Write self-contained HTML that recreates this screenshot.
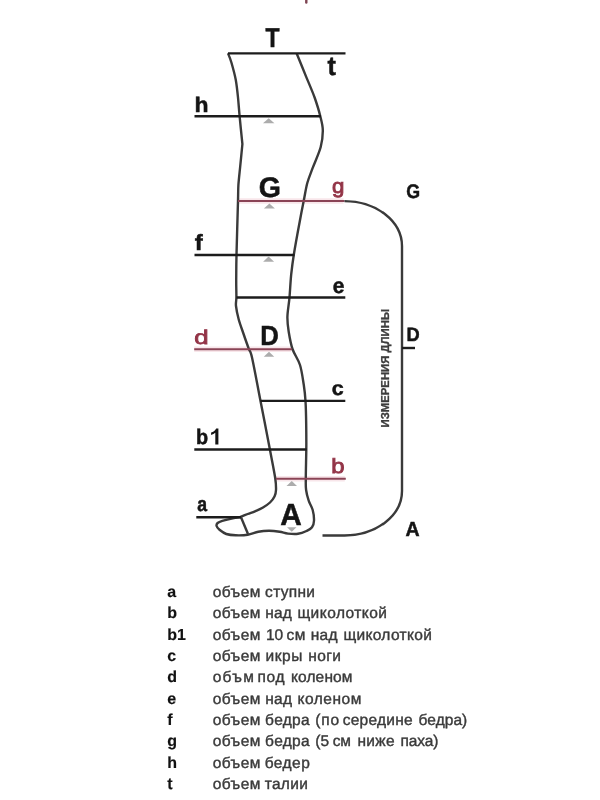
<!DOCTYPE html>
<html><head><meta charset="utf-8"><style>
html,body{margin:0;padding:0;background:#fff;width:600px;height:800px;overflow:hidden}
svg{display:block;will-change:transform;text-rendering:geometricPrecision;font-family:"Liberation Sans",sans-serif}
</style></head><body>
<svg width="600" height="800" viewBox="0 0 600 800">
<line x1="276" y1="478.7" x2="344.8" y2="478.7" stroke="#f8e6ea" stroke-width="5.5"/>
<line x1="194.2" y1="349.2" x2="291" y2="349.2" stroke="#f8e6ea" stroke-width="5.5"/>
<line x1="238" y1="201.1" x2="343.5" y2="201.1" stroke="#f8e6ea" stroke-width="5.5"/>
<path d="M228.0,53.3 C228.6,54.8 230.1,58.0 231.4,62.5 C232.7,67.0 234.7,74.2 235.8,80.0 C236.8,85.8 237.4,91.5 238.0,97.5 C238.6,103.5 238.9,108.2 239.6,116.0 C240.3,123.8 241.9,139.3 242.4,144.0" fill="none" stroke="#3a3a3a" stroke-width="2.4" stroke-linejoin="round"/>
<path d="M242.4,144.0 C242.0,147.9 240.8,160.7 240.1,167.5 C239.4,174.3 238.8,179.4 238.4,185.0 C238.1,190.6 238.3,189.3 238.0,201.0 C237.7,212.7 236.8,241.8 236.5,255.0 C236.2,268.2 236.3,273.0 236.2,280.0 C236.2,287.0 236.4,292.7 236.4,297.0 C236.4,301.3 235.6,302.3 236.0,306.0 C236.4,309.7 237.4,314.4 238.6,319.0 C239.8,323.6 241.7,328.5 243.4,333.5 C245.1,338.5 247.3,344.8 248.8,348.8 C250.2,352.8 250.0,348.8 252.0,357.5 C254.0,366.2 257.5,385.6 260.5,401.0 C263.5,416.4 267.6,437.2 270.0,450.0 C272.4,462.8 274.2,471.3 275.2,478.0 C276.2,484.7 276.1,486.9 276.0,490.0 C275.9,493.1 275.5,494.4 274.5,496.5 C273.5,498.6 271.9,500.7 270.0,502.5 C268.1,504.3 265.5,506.0 263.0,507.5 C260.5,509.0 257.6,510.2 255.0,511.3 C252.4,512.4 250.2,513.0 247.7,514.0 C245.2,515.0 241.3,516.6 240.0,517.1" fill="none" stroke="#3a3a3a" stroke-width="2.4" stroke-linejoin="round"/>
<path d="M240.0,517.1 C238.6,517.4 234.6,518.0 231.7,518.6 C228.8,519.2 224.7,520.1 222.3,520.8 C220.0,521.5 218.6,522.1 217.6,523.0 C216.6,523.9 216.3,524.9 216.6,526.0 C216.9,527.1 217.9,528.5 219.5,529.8 C221.1,531.1 223.6,533.1 226.3,534.0 C229.0,534.9 232.1,535.2 235.7,535.3 C239.3,535.4 243.9,535.4 247.7,534.8 C251.5,534.2 254.8,532.5 258.3,531.8 C261.9,531.1 265.4,530.8 269.0,530.8 C272.6,530.8 276.5,531.3 279.7,531.8 C282.9,532.3 284.9,533.3 288.0,533.6 C291.1,533.9 294.9,534.2 298.0,533.8 C301.1,533.4 304.2,532.1 306.5,531.0 C308.8,529.9 310.8,529.0 312.0,527.3 C313.2,525.6 313.9,523.6 314.0,520.7 C314.1,517.8 313.6,513.3 312.7,510.0 C311.8,506.7 309.8,504.0 308.7,500.7 C307.6,497.4 306.6,493.7 306.1,490.0 C305.6,486.3 305.8,485.5 305.8,478.7 C305.8,471.9 306.2,457.9 306.3,449.0 C306.4,440.1 306.3,433.0 306.2,425.0 C306.1,417.0 305.9,407.7 305.5,401.0 C305.1,394.3 304.7,391.0 303.8,385.0 C302.8,379.0 301.9,371.0 300.0,365.0 C298.1,359.0 294.4,354.6 292.5,349.0 C290.6,343.4 289.6,337.1 288.7,331.7 C287.8,326.3 287.3,322.6 287.4,316.9 C287.5,311.2 288.9,304.4 289.5,297.3 C290.1,290.2 290.5,281.5 291.2,274.4 C292.0,267.3 292.4,263.7 293.8,254.8 C295.2,245.9 298.1,230.2 299.8,221.2 C301.4,212.2 302.4,207.4 303.7,201.0 C305.0,194.6 305.8,188.5 307.3,183.0 C308.8,177.5 310.4,174.2 312.6,168.2 C314.8,162.2 319.0,153.4 320.7,147.0 C322.4,140.6 322.9,135.3 322.8,130.0 C322.7,124.7 321.3,120.4 320.0,115.1 C318.7,109.8 317.0,104.4 314.8,98.0 C312.5,91.6 309.3,84.3 306.2,76.9 C303.2,69.5 298.3,57.4 296.7,53.5" fill="none" stroke="#3a3a3a" stroke-width="2.4" stroke-linejoin="round"/>
<line x1="241" y1="517.3" x2="248" y2="534" stroke="#3a3a3a" stroke-width="2.4"/>
<line x1="228" y1="53.4" x2="345.5" y2="53.4" stroke="#1c1c1c" stroke-width="2.4"/>
<line x1="194.5" y1="116.3" x2="321" y2="116.3" stroke="#1c1c1c" stroke-width="2.4"/>
<line x1="238" y1="201.1" x2="344.5" y2="201.1" stroke="#8a4456" stroke-width="2.0"/>
<line x1="194.5" y1="255" x2="294.5" y2="255" stroke="#1c1c1c" stroke-width="2.4"/>
<line x1="236.5" y1="297.5" x2="345.3" y2="297.5" stroke="#1c1c1c" stroke-width="2.4"/>
<line x1="194.2" y1="349.2" x2="292" y2="349.2" stroke="#8a4456" stroke-width="2.0"/>
<line x1="260.3" y1="400.9" x2="345.3" y2="400.9" stroke="#1c1c1c" stroke-width="2.4"/>
<line x1="194.3" y1="449.5" x2="306.7" y2="449.5" stroke="#1c1c1c" stroke-width="2.4"/>
<line x1="276" y1="478.7" x2="345.8" y2="478.7" stroke="#8a4456" stroke-width="2.0"/>
<line x1="196.3" y1="517.3" x2="241" y2="517.3" stroke="#1c1c1c" stroke-width="2.4"/>
<path d="M344.5,201.1 A57.5,45 0 0 1 402,246 L402,491 A57.5,44.5 0 0 1 344.5,535.5 L322.5,535.5" fill="none" stroke="#3a3a3a" stroke-width="2.4"/>
<line x1="402" y1="348" x2="415" y2="348" stroke="#1c1c1c" stroke-width="2.4"/>
<polygon points="262.95,123.2 274.45,123.2 268.7,118.2" fill="#acacac"/>
<polygon points="263.9,208.6 274.9,208.6 269.4,203.6" fill="#acacac"/>
<polygon points="263.1,261.8 274.1,261.8 268.6,256.6" fill="#acacac"/>
<polygon points="263.75,356.8 274.25,356.8 269,351.8" fill="#acacac"/>
<polygon points="286.5,486 297.0,486 291.75,481" fill="#acacac"/>
<polygon points="287.0,527.3 296.5,527.3 291.75,531.6999999999999" fill="#acacac"/>
<text transform="translate(265.50,47.00) scale(0.2292,0.2725)" font-size="100" fill="#141414" stroke="#141414" stroke-width="1.99" font-weight="bold">T</text>
<text transform="translate(327.45,75.31) scale(0.2524,0.2632)" font-size="100" fill="#141414" stroke="#141414" stroke-width="1.94" font-weight="bold">t</text>
<text transform="translate(194.44,111.85) scale(0.2296,0.2117)" font-size="100" fill="#141414" stroke="#141414" stroke-width="2.27" font-weight="bold">h</text>
<text transform="translate(258.83,196.97) scale(0.2852,0.2825)" font-size="100" fill="#141414" stroke="#141414" stroke-width="1.76" font-weight="bold">G</text>
<text transform="translate(332.02,192.66) scale(0.2222,0.2040)" font-size="100" fill="#933447" stroke="#933447" stroke-width="4.22" font-weight="normal">g</text>
<text transform="translate(406.22,197.65) scale(0.1778,0.1956)" font-size="100" fill="#141414" stroke="#141414" stroke-width="2.68" font-weight="bold">G</text>
<text transform="translate(194.74,250.15) scale(0.2390,0.2193)" font-size="100" fill="#141414" stroke="#141414" stroke-width="2.18" font-weight="bold">f</text>
<text transform="translate(332.63,293.33) scale(0.2091,0.2172)" font-size="100" fill="#141414" stroke="#141414" stroke-width="2.35" font-weight="bold">e</text>
<text transform="translate(194.37,344.05) scale(0.2578,0.1986)" font-size="100" fill="#933447" stroke="#933447" stroke-width="3.94" font-weight="normal">d</text>
<text transform="translate(260.22,345.05) scale(0.2577,0.2762)" font-size="100" fill="#141414" stroke="#141414" stroke-width="1.87" font-weight="bold">D</text>
<text transform="translate(406.53,341.35) scale(0.1827,0.1933)" font-size="100" fill="#141414" stroke="#141414" stroke-width="2.66" font-weight="bold">D</text>
<text transform="translate(331.81,395.35) scale(0.2152,0.2026)" font-size="100" fill="#141414" stroke="#141414" stroke-width="2.39" font-weight="bold">c</text>
<text transform="translate(196.04,444.04) scale(0.1984,0.2109)" font-size="100" fill="#141414" stroke="#141414" stroke-width="2.44" font-weight="bold">b</text>
<text transform="translate(331.30,472.94) scale(0.2383,0.2054)" font-size="100" fill="#933447" stroke="#933447" stroke-width="4.06" font-weight="normal">b</text>
<text transform="translate(197.24,511.15) scale(0.1760,0.2044)" font-size="100" fill="#141414" stroke="#141414" stroke-width="2.63" font-weight="bold">a</text>
<text transform="translate(280.25,524.50) scale(0.2981,0.3052)" font-size="100" fill="#141414" stroke="#141414" stroke-width="1.66" font-weight="bold">A</text>
<text transform="translate(405.56,536.15) scale(0.1952,0.2049)" font-size="100" fill="#141414" stroke="#141414" stroke-width="2.50" font-weight="bold">A</text>
<path d="M215.3,444.5 L218.4,444.5 L218.4,428.4 L216.2,428.4 C215,430.6 213.2,431.9 211.1,432.5 L211.1,435.1 C212.8,434.6 214.2,433.8 215.3,432.8 Z" fill="#141414"/>
<text transform="translate(388.6,427.5) rotate(-90)" font-size="11.5" font-weight="bold" fill="#3c3c3c" stroke="#3c3c3c" stroke-width="0.3" textLength="118.5" lengthAdjust="spacingAndGlyphs">ИЗМЕРЕНИЯ ДЛИНЫ</text>
<rect x="305.1" y="-2" width="2.4" height="5.8" rx="1.2" fill="#7e4452"/>
<text x="167.2" y="596.8" font-size="16" font-weight="bold" fill="#111" stroke="#111" stroke-width="0.15">a</text>
<text x="212.7" y="596.8" font-size="15.5" fill="#3a3a3a" stroke="#3a3a3a" stroke-width="0.4" textLength="47.8" lengthAdjust="spacing">объем</text>
<text x="265.1" y="596.8" font-size="15.5" fill="#3a3a3a" stroke="#3a3a3a" stroke-width="0.4" textLength="49.8" lengthAdjust="spacing">ступни</text>
<text x="167.2" y="618.1" font-size="16" font-weight="bold" fill="#111" stroke="#111" stroke-width="0.15">b</text>
<text x="212.7" y="618.1" font-size="15.5" fill="#3a3a3a" stroke="#3a3a3a" stroke-width="0.4" textLength="47.8" lengthAdjust="spacing">объем</text>
<text x="265.2" y="618.1" font-size="15.5" fill="#3a3a3a" stroke="#3a3a3a" stroke-width="0.4" textLength="26.5" lengthAdjust="spacing">над</text>
<text x="297.4" y="618.1" font-size="15.5" fill="#3a3a3a" stroke="#3a3a3a" stroke-width="0.4" textLength="89.6" lengthAdjust="spacing">щиколоткой</text>
<text x="167.2" y="639.5" font-size="16" font-weight="bold" fill="#111" stroke="#111" stroke-width="0.15">b1</text>
<text x="212.7" y="639.5" font-size="15.5" fill="#3a3a3a" stroke="#3a3a3a" stroke-width="0.4" textLength="47.8" lengthAdjust="spacing">объем</text>
<text x="265.9" y="639.5" font-size="15.5" fill="#3a3a3a" stroke="#3a3a3a" stroke-width="0.4" textLength="17.1" lengthAdjust="spacing">10</text>
<text x="286.4" y="639.5" font-size="15.5" fill="#3a3a3a" stroke="#3a3a3a" stroke-width="0.4" textLength="19.1" lengthAdjust="spacing">см</text>
<text x="310.7" y="639.5" font-size="15.5" fill="#3a3a3a" stroke="#3a3a3a" stroke-width="0.4" textLength="26.8" lengthAdjust="spacing">над</text>
<text x="343.4" y="639.5" font-size="15.5" fill="#3a3a3a" stroke="#3a3a3a" stroke-width="0.4" textLength="88.4" lengthAdjust="spacing">щиколоткой</text>
<text x="167.2" y="660.8" font-size="16" font-weight="bold" fill="#111" stroke="#111" stroke-width="0.15">c</text>
<text x="212.7" y="660.8" font-size="15.5" fill="#3a3a3a" stroke="#3a3a3a" stroke-width="0.4" textLength="47.8" lengthAdjust="spacing">объем</text>
<text x="265.4" y="660.8" font-size="15.5" fill="#3a3a3a" stroke="#3a3a3a" stroke-width="0.4" textLength="36.9" lengthAdjust="spacing">икры</text>
<text x="308.2" y="660.8" font-size="15.5" fill="#3a3a3a" stroke="#3a3a3a" stroke-width="0.4" textLength="32.8" lengthAdjust="spacing">ноги</text>
<text x="167.2" y="682.2" font-size="16" font-weight="bold" fill="#111" stroke="#111" stroke-width="0.15">d</text>
<text x="212.7" y="682.2" font-size="15.5" fill="#3a3a3a" stroke="#3a3a3a" stroke-width="0.4" textLength="41.1" lengthAdjust="spacing">объм</text>
<text x="257.4" y="682.2" font-size="15.5" fill="#3a3a3a" stroke="#3a3a3a" stroke-width="0.4" textLength="27.1" lengthAdjust="spacing">под</text>
<text x="290.9" y="682.2" font-size="15.5" fill="#3a3a3a" stroke="#3a3a3a" stroke-width="0.4" textLength="61.6" lengthAdjust="spacing">коленом</text>
<text x="167.2" y="703.5" font-size="16" font-weight="bold" fill="#111" stroke="#111" stroke-width="0.15">e</text>
<text x="212.7" y="703.5" font-size="15.5" fill="#3a3a3a" stroke="#3a3a3a" stroke-width="0.4" textLength="47.8" lengthAdjust="spacing">объем</text>
<text x="265.2" y="703.5" font-size="15.5" fill="#3a3a3a" stroke="#3a3a3a" stroke-width="0.4" textLength="26.8" lengthAdjust="spacing">над</text>
<text x="297.4" y="703.5" font-size="15.5" fill="#3a3a3a" stroke="#3a3a3a" stroke-width="0.4" textLength="63.9" lengthAdjust="spacing">коленом</text>
<text x="167.2" y="724.9" font-size="16" font-weight="bold" fill="#111" stroke="#111" stroke-width="0.15">f</text>
<text x="212.7" y="724.9" font-size="15.5" fill="#3a3a3a" stroke="#3a3a3a" stroke-width="0.4" textLength="47.8" lengthAdjust="spacing">объем</text>
<text x="265.1" y="724.9" font-size="15.5" fill="#3a3a3a" stroke="#3a3a3a" stroke-width="0.4" textLength="44.6" lengthAdjust="spacing">бедра</text>
<text x="315.2" y="724.9" font-size="15.5" fill="#3a3a3a" stroke="#3a3a3a" stroke-width="0.4" textLength="24.0" lengthAdjust="spacing">(по</text>
<text x="342.7" y="724.9" font-size="15.5" fill="#3a3a3a" stroke="#3a3a3a" stroke-width="0.4" textLength="69.9" lengthAdjust="spacing">середине</text>
<text x="418.6" y="724.9" font-size="15.5" fill="#3a3a3a" stroke="#3a3a3a" stroke-width="0.4" textLength="48.6" lengthAdjust="spacing">бедра)</text>
<text x="167.2" y="746.2" font-size="16" font-weight="bold" fill="#111" stroke="#111" stroke-width="0.15">g</text>
<text x="212.7" y="746.2" font-size="15.5" fill="#3a3a3a" stroke="#3a3a3a" stroke-width="0.4" textLength="47.8" lengthAdjust="spacing">объем</text>
<text x="265.1" y="746.2" font-size="15.5" fill="#3a3a3a" stroke="#3a3a3a" stroke-width="0.4" textLength="44.6" lengthAdjust="spacing">бедра</text>
<text x="315.2" y="746.2" font-size="15.5" fill="#3a3a3a" stroke="#3a3a3a" stroke-width="0.4" textLength="14.0" lengthAdjust="spacing">(5</text>
<text x="332.7" y="746.2" font-size="15.5" fill="#3a3a3a" stroke="#3a3a3a" stroke-width="0.4" textLength="18.3" lengthAdjust="spacing">см</text>
<text x="357.4" y="746.2" font-size="15.5" fill="#3a3a3a" stroke="#3a3a3a" stroke-width="0.4" textLength="37.1" lengthAdjust="spacing">ниже</text>
<text x="400.4" y="746.2" font-size="15.5" fill="#3a3a3a" stroke="#3a3a3a" stroke-width="0.4" textLength="38.0" lengthAdjust="spacing">паха)</text>
<text x="167.2" y="767.6" font-size="16" font-weight="bold" fill="#111" stroke="#111" stroke-width="0.15">h</text>
<text x="212.7" y="767.6" font-size="15.5" fill="#3a3a3a" stroke="#3a3a3a" stroke-width="0.4" textLength="47.8" lengthAdjust="spacing">объем</text>
<text x="264.7" y="767.6" font-size="15.5" fill="#3a3a3a" stroke="#3a3a3a" stroke-width="0.4" textLength="45.1" lengthAdjust="spacing">бедер</text>
<text x="167.2" y="788.9" font-size="16" font-weight="bold" fill="#111" stroke="#111" stroke-width="0.15">t</text>
<text x="212.7" y="788.9" font-size="15.5" fill="#3a3a3a" stroke="#3a3a3a" stroke-width="0.4" textLength="47.8" lengthAdjust="spacing">объем</text>
<text x="264.7" y="788.9" font-size="15.5" fill="#3a3a3a" stroke="#3a3a3a" stroke-width="0.4" textLength="43.1" lengthAdjust="spacing">талии</text>
</svg>
</body></html>
